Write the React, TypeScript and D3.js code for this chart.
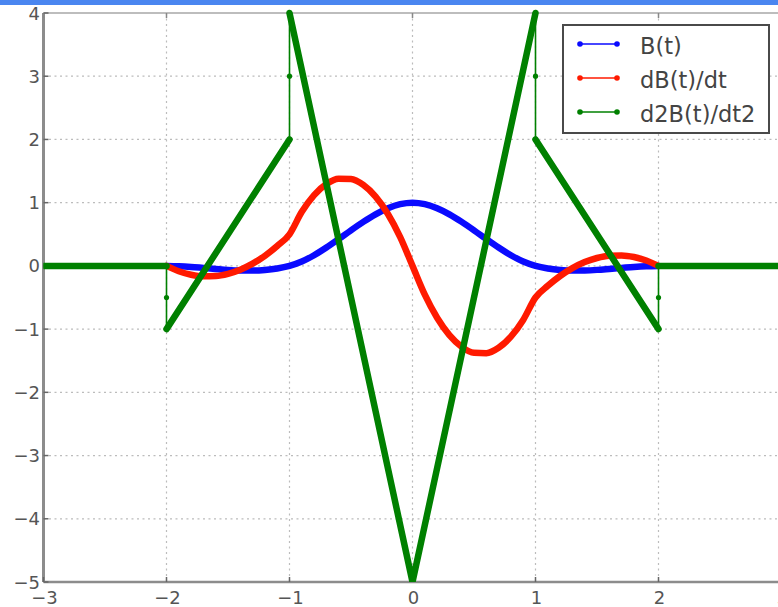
import React from "react";
import * as d3 from "d3";

// Sample positions
const tSamples = [
  -2, -1.9, -1.8, -1.7, -1.6, -1.5, -1.4, -1.3, -1.2, -1.1, -1, -0.9, -0.8, -0.7, -0.6, -0.5, -0.4, -0.3, -0.2, -0.1,
  0, 0.1, 0.2, 0.3, 0.4, 0.5, 0.6, 0.7, 0.8, 0.9, 1, 1.1, 1.2, 1.3, 1.4, 1.5, 1.6, 1.7, 1.8, 1.9, 2,
];
// B(t)
const bValues = [
  0, -0.005, -0.016, -0.032, -0.048, -0.063, -0.072, -0.074, -0.064, -0.041, 0, 0.069, 0.168, 0.29, 0.424, 0.563,
  0.696, 0.816, 0.912, 0.977, 1, 0.977, 0.912, 0.816, 0.696, 0.563, 0.424, 0.29, 0.168, 0.069, 0, -0.041, -0.064,
  -0.074, -0.072, -0.063, -0.048, -0.032, -0.016, -0.005, 0,
];
// dB(t)/dt
const dbValues = [
  0, -0.085, -0.14, -0.165, -0.16, -0.125, -0.06, 0.035, 0.16, 0.315, 0.5, 0.855, 1.12, 1.295, 1.38, 1.375, 1.28,
  1.095, 0.82, 0.455, 0, -0.455, -0.82, -1.095, -1.28, -1.375, -1.38, -1.295, -1.12, -0.855, -0.5, -0.315, -0.16,
  -0.035, 0.06, 0.125, 0.16, 0.165, 0.14, 0.085, 0,
];
// d2B(t)/dt2 knots (piecewise linear with jumps)
const d2T = [-3, -2, -2, -2, -1, -1, -1, 0, 1, 1, 1, 2, 2, 2, 3];
const d2Values = [0, 0, -0.5, -1, 2, 3, 4, -5, 4, 3, 2, -1, -0.5, 0, 0];

const xTicks = [-3, -2, -1, 0, 1, 2, 3];
const yTicks = [-5, -4, -3, -2, -1, 0, 1, 2, 3, 4];
const legendLabels = ["B(t)", "dB(t)/dt", "d2B(t)/dt2"];
const seriesColors = ["#0a0aff", "#ff1a00", "#008000"];

const W = 778;
const H = 607;
const x = d3.scaleLinear().domain([-3, 3]).range([43.5, 781.5]);
const y = d3.scaleLinear().domain([-5, 4]).range([582, 13]);

const fmt = (v: number) => (v < 0 ? "\u2212" + Math.abs(v) : String(v));

export default function App() {
  const curve = d3
    .line<[number, number]>()
    .x((d) => x(d[0]))
    .y((d) => y(d[1]))
    .curve(d3.curveMonotoneX);
  const straight = d3
    .line<[number, number]>()
    .x((d) => x(d[0]))
    .y((d) => y(d[1]));

  const bPts = tSamples.map((t, i) => [t, bValues[i]] as [number, number]);
  const dbPts = tSamples.map((t, i) => [t, dbValues[i]] as [number, number]);
  const gPts = d2T.map((t, i) => [t, d2Values[i]] as [number, number]);

  // split green into thick runs (non-vertical) and thin jumps (vertical)
  const thickRuns: [number, number][][] = [];
  const thinSegs: [number, number][][] = [];
  let run: [number, number][] = [];
  for (let i = 0; i < gPts.length - 1; i++) {
    const a = gPts[i];
    const b = gPts[i + 1];
    if (a[0] === b[0]) {
      thinSegs.push([a, b]);
      if (run.length) thickRuns.push(run);
      run = [];
    } else {
      if (!run.length) run.push(a);
      run.push(b);
    }
  }
  if (run.length) thickRuns.push(run);

  const x0 = x(-3);
  const x1 = x(3);
  const yTop = y(4);
  const yBot = y(-5);

  return (
    <svg
      width={W}
      height={H}
      style={{ position: "absolute", left: 0, top: 0, background: "#fff" }}
      fontFamily="DejaVu Sans, sans-serif"
    >
      <defs>
        <clipPath id="plotclip">
          <rect x={x0} y={yTop - 4} width={x1 - x0} height={yBot - yTop + 4} />
        </clipPath>
      </defs>
      <rect x={0} y={0} width={W} height={H} fill="#fff" />
      <rect x={0} y={0} width={W} height={5} fill="#4a86f0" />

      {/* grid */}
      {xTicks.map((t) => (
        <line
          key={"gx" + t}
          x1={x(t)}
          x2={x(t)}
          y1={yTop}
          y2={yBot}
          stroke="#bcbcbc"
          strokeWidth={1.2}
          strokeDasharray="2,3.5"
        />
      ))}
      {yTicks.map((t) => (
        <line
          key={"gy" + t}
          x1={x0}
          x2={x1}
          y1={y(t)}
          y2={y(t)}
          stroke="#bcbcbc"
          strokeWidth={1.2}
          strokeDasharray="2,3.5"
        />
      ))}

      {/* spines */}
      <line x1={x0} x2={x1} y1={yTop} y2={yTop} stroke="#bdbdbd" strokeWidth={2} />
      <line x1={x0} x2={x1} y1={yBot} y2={yBot} stroke="#8c8c8c" strokeWidth={2.5} />
      <line x1={x0} x2={x0} y1={yTop} y2={yBot} stroke="#8c8c8c" strokeWidth={3} />

      {/* ticks */}
      {xTicks.map((t) => (
        <g key={"tx" + t}>
          <line x1={x(t)} x2={x(t)} y1={yBot} y2={yBot - 5} stroke="#666" strokeWidth={1.5} />
          <line x1={x(t)} x2={x(t)} y1={yTop} y2={yTop + 5} stroke="#888" strokeWidth={1.5} />
        </g>
      ))}
      {yTicks.map((t) => (
        <line key={"ty" + t} x1={x0} x2={x0 + 5} y1={y(t)} y2={y(t)} stroke="#666" strokeWidth={1.5} />
      ))}

      {/* tick labels */}
      {yTicks.map((t) => (
        <text
          key={"ly" + t}
          x={40}
          y={y(t)}
          textAnchor="end"
          dominantBaseline="central"
          fontSize={18}
          fill="#555"
        >
          {fmt(t)}
        </text>
      ))}
      {xTicks.map((t) => (
        <text
          key={"lx" + t}
          x={x(t) + 1}
          y={597}
          textAnchor="middle"
          dominantBaseline="central"
          fontSize={18}
          fill="#555"
        >
          {fmt(t)}
        </text>
      ))}

      {/* series */}
      <g clipPath="url(#plotclip)">
        <path d={curve(bPts) || ""} fill="none" stroke={seriesColors[0]} strokeWidth={6.5} strokeLinejoin="round" strokeLinecap="round" />
        <path d={curve(dbPts) || ""} fill="none" stroke={seriesColors[1]} strokeWidth={6.5} strokeLinejoin="round" strokeLinecap="round" />
        {thinSegs.map((s, i) => (
          <path key={"thin" + i} d={straight(s) || ""} fill="none" stroke={seriesColors[2]} strokeWidth={1.6} />
        ))}
        {thickRuns.map((r, i) => (
          <path
            key={"thick" + i}
            d={straight(r) || ""}
            fill="none"
            stroke={seriesColors[2]}
            strokeWidth={6.5}
            strokeLinejoin="round"
            strokeLinecap="round"
          />
        ))}
        {gPts.map((p, i) => (
          <circle key={"gm" + i} cx={x(p[0])} cy={y(p[1])} r={2.6} fill={seriesColors[2]} />
        ))}
      </g>

      {/* legend */}
      <g>
        <rect x={563} y={25} width={206} height={108} fill="#fff" stroke="#4a4a4a" strokeWidth={2} />
        {legendLabels.map((lab, i) => {
          const ly = 44 + i * 34;
          return (
            <g key={lab}>
              <line x1={580} x2={617} y1={ly} y2={ly} stroke={seriesColors[i]} strokeWidth={1.6} />
              <circle cx={580} cy={ly} r={2.8} fill={seriesColors[i]} />
              <circle cx={617} cy={ly} r={2.8} fill={seriesColors[i]} />
              <text x={640} y={ly + 2} dominantBaseline="central" fontSize={22.5} fill="#444">
                {lab}
              </text>
            </g>
          );
        })}
      </g>
    </svg>
  );
}
